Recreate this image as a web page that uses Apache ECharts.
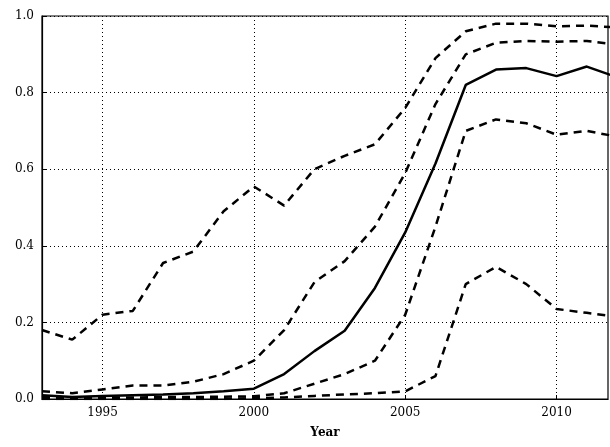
<!DOCTYPE html>
<html><head><meta charset="utf-8">
<script src="https://cdn.jsdelivr.net/npm/echarts@6/dist/echarts.min.js"></script>
<style>html,body{margin:0;padding:0;background:#fff}#c{width:610px;height:447px}</style>
</head><body><div id="c"></div>
<script>
var years = [1993,1994,1995,1996,1997,1998,1999,2000,2001,2002,2003,2004,2005,2006,2007,2008,2009,2010,2011,2012];
var median = [0.01,0.005,0.008,0.01,0.012,0.015,0.02,0.027,0.065,0.125,0.178,0.29,0.435,0.615,0.82,0.86,0.864,0.843,0.868,0.84];
var upper95 = [0.18,0.155,0.22,0.23,0.355,0.385,0.49,0.555,0.505,0.6,0.635,0.665,0.76,0.89,0.96,0.98,0.98,0.973,0.975,0.97];
var upper50 = [0.02,0.015,0.025,0.035,0.035,0.045,0.065,0.1,0.18,0.305,0.36,0.45,0.59,0.77,0.9,0.93,0.935,0.933,0.935,0.925];
var lower50 = [0.005,0.004,0.004,0.004,0.005,0.005,0.006,0.007,0.015,0.04,0.065,0.1,0.22,0.45,0.7,0.73,0.72,0.69,0.7,0.685];
var lower95 = [0,0,0,0,0,0,0,0.002,0.004,0.008,0.012,0.015,0.02,0.06,0.3,0.345,0.3,0.235,0.225,0.215];
var yearTicks = [1995, 2000, 2005, 2010];

var font = 'DejaVu Serif';
function pairs(v) { return years.map(function (y, i) { return [y, v[i]]; }); }
function line(v, dashed) {
    return {
        type: 'line', data: pairs(v), symbol: 'none', clip: true,
        lineStyle: { color: '#000', width: 2.5, type: dashed ? [8, 6] : 'solid' }
    };
}
var myChart = echarts.init(document.getElementById('c'));
myChart.setOption({
    animation: false,
    grid: { left: 42, right: 2, top: 16, bottom: 48 },
    xAxis: {
        type: 'value', min: 1993, max: 2011.7,
        name: 'Year', nameLocation: 'middle', nameGap: 28,
        nameTextStyle: { fontFamily: font, fontWeight: 'bold', fontSize: 12, color: '#000' },
        axisLine: { lineStyle: { color: '#000', width: 1.2 } },
        axisTick: { inside: true, length: 4, customValues: yearTicks, lineStyle: { color: '#000' } },
        axisLabel: {
            fontFamily: font, fontSize: 12, color: '#000', margin: 8, customValues: yearTicks,
            formatter: function (v) { return String(v); }
        },
        splitLine: { show: true, lineStyle: { color: '#000', type: [1, 3], width: 1 } }
    },
    yAxis: {
        type: 'value', min: 0, max: 1, interval: 0.2,
        axisLine: { show: true, lineStyle: { color: '#000', width: 1.2 } },
        axisTick: { show: true, inside: true, length: 4, lineStyle: { color: '#000' } },
        axisLabel: { fontFamily: font, fontSize: 12, color: '#000', formatter: function (v) { return v.toFixed(1); } },
        splitLine: { show: true, lineStyle: { color: '#000', type: [1, 3], width: 1 } }
    },
    series: [line(upper95, true), line(upper50, true), line(median, false), line(lower50, true), line(lower95, true)],
    graphic: [{ type: 'rect', shape: { x: 42, y: 16, width: 566, height: 383 }, style: { fill: 'none', stroke: '#000', lineWidth: 1.2 }, z: 10 }]
});
</script></body></html>
